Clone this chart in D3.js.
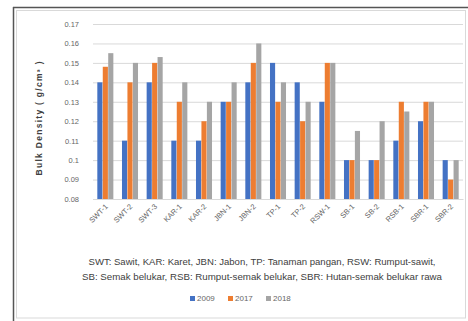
<!DOCTYPE html>
<html>
<head>
<meta charset="utf-8">
<script src="https://cdn.jsdelivr.net/npm/d3@7/dist/d3.min.js"></script>
<style>
  html, body { margin: 0; padding: 0; background: #fff; }
  svg { display: block; font-family: "Liberation Sans", Arial, sans-serif; }
</style>
</head>
<body>
<svg id="chart" width="468" height="321"></svg>
<script>
// Land-use sampling sites
const categories = ["SWT-1", "SWT-2", "SWT-3", "KAR-1", "KAR-2", "JBN-1", "JBN-2", "TP-1", "TP-2",
                    "RSW-1", "SB-1", "SB-2", "RSB-1", "SBR-1", "SBR-2"];
const years = ["2009", "2017", "2018"];
// Bulk density (g/cm3) per site and year
const bd2009 = [0.14, 0.11, 0.14, 0.11, 0.11, 0.13, 0.14, 0.15, 0.14, 0.13, 0.10, 0.10, 0.11, 0.12, 0.10];
const bd2017 = [0.148, 0.14, 0.15, 0.13, 0.12, 0.13, 0.15, 0.13, 0.12, 0.15, 0.10, 0.10, 0.13, 0.13, 0.09];
const bd2018 = [0.155, 0.15, 0.153, 0.14, 0.13, 0.14, 0.16, 0.14, 0.13, 0.15, 0.115, 0.12, 0.125, 0.13, 0.10];
const yTicks = [0.08, 0.09, 0.1, 0.11, 0.12, 0.13, 0.14, 0.15, 0.16, 0.17];
const colors = ["#4472C4", "#ED7D31", "#A5A5A5"];
const captionLines = [
  "SWT: Sawit, KAR: Karet, JBN: Jabon, TP: Tanaman pangan, RSW: Rumput-sawit,",
  "SB: Semak belukar, RSB: Rumput-semak belukar, SBR: Hutan-semak belukar rawa"
];

const series = [bd2009, bd2017, bd2018];
const svg = d3.select("#chart");

// frame around the figure
svg.append("rect").attr("x", 16.5).attr("y", 10.5).attr("width", 449).attr("height", 307.5)
  .attr("fill", "none").attr("stroke", "#d9d9d9").attr("stroke-width", 1);
svg.append("line").attr("x1", 13.5).attr("x2", 13.5).attr("y1", 7).attr("y2", 321)
  .attr("stroke", "#555").attr("stroke-width", 1.5);
svg.append("line").attr("x1", 13).attr("x2", 468).attr("y1", 7.5).attr("y2", 7.5)
  .attr("stroke", "#555").attr("stroke-width", 1.5);

const plot = { left: 93, right: 463, top: 24, bottom: 199 };

const x = d3.scaleBand().domain(categories).range([plot.left, plot.right])
  .paddingInner(0.35).paddingOuter(0.175);
const xi = d3.scaleBand().domain(years).range([0, x.bandwidth()]).paddingInner(0.06);
const y = d3.scaleLinear().domain([0.08, 0.17]).range([plot.bottom, plot.top]);

// gridlines + y tick labels
const yAxis = d3.axisLeft(y).tickValues(yTicks).tickSize(-(plot.right - plot.left))
  .tickFormat(d => d3.format("")(+d.toFixed(2)));
const gy = svg.append("g").attr("transform", `translate(${plot.left},0)`).call(yAxis);
gy.select(".domain").remove();
gy.selectAll(".tick line").attr("stroke", "#d9d9d9").attr("stroke-width", 1);
gy.selectAll(".tick text").attr("x", -14).attr("fill", "#666")
  .style("font-size", "7.5px");

// bars
const groups = svg.append("g").selectAll("g").data(categories).join("g")
  .attr("transform", d => `translate(${x(d)},0)`);
groups.selectAll("rect").data((d, i) => years.map((yr, k) => ({ yr, k, v: series[k][i] })))
  .join("rect")
  .attr("x", d => xi(d.yr))
  .attr("width", xi.bandwidth())
  .attr("y", d => y(d.v))
  .attr("height", d => y(0.08) - y(d.v))
  .attr("fill", d => colors[d.k]);

// category labels, rotated
const xAxis = d3.axisBottom(x).tickSize(0);
const gx = svg.append("g").attr("transform", `translate(0,${plot.bottom})`).call(xAxis);
gx.select(".domain").attr("stroke", "#d9d9d9");
gx.selectAll(".tick text")
  .attr("fill", "#666").style("font-size", "7.5px")
  .attr("text-anchor", "end").attr("dy", 0).attr("y", 0)
  .attr("transform", "translate(3,8) rotate(-45)");

// y axis title
svg.append("text")
  .attr("transform", `translate(42,${(plot.top + plot.bottom) / 2 + 7}) rotate(-90)`)
  .attr("text-anchor", "middle").attr("font-weight", "bold")
  .attr("fill", "#404040").style("font-size", "8.5px")
  .attr("textLength", 114).attr("lengthAdjust", "spacing")
  .text("Bulk Density ( g/cm³ )");

// caption
svg.append("g").selectAll("text").data(captionLines).join("text")
  .attr("x", 262).attr("y", (d, i) => 265 + i * 15)
  .attr("text-anchor", "middle").attr("fill", "#404040")
  .style("font-size", "9px")
  .attr("textLength", (d, i) => i === 0 ? 347 : 360)
  .attr("lengthAdjust", "spacingAndGlyphs")
  .text(d => d);

// legend
const legend = svg.append("g").attr("transform", "translate(190,301)");
const items = legend.selectAll("g").data(years).join("g")
  .attr("transform", (d, i) => `translate(${i * 38},0)`);
items.append("rect").attr("x", 0).attr("y", -5).attr("width", 5).attr("height", 5)
  .attr("fill", (d, i) => colors[i]);
items.append("text").attr("x", 7).attr("y", 0).attr("fill", "#666")
  .style("font-size", "8px").text(d => d);
</script>
</body>
</html>
